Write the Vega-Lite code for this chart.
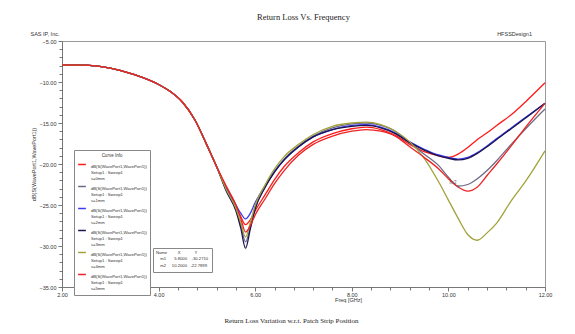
{
  "$schema": "https://vega.github.io/schema/vega-lite/v6.json",
  "background": "white",
  "padding": {"left": 30, "top": 12, "right": 5, "bottom": 2},
  "title": {"text": "Return Loss Vs. Frequency", "font": "Liberation Serif", "fontSize": 8.5, "fontWeight": "normal", "color": "#222", "anchor": "middle", "offset": 10, "dx": 12},
  "datasets": {
    "curves": [
      {"s":"s=0mm","f":2.0,"v":-7.9},{"s":"s=0mm","f":2.5,"v":-7.95},{"s":"s=0mm","f":3.0,"v":-8.3},{"s":"s=0mm","f":3.5,"v":-9.1},{"s":"s=0mm","f":4.0,"v":-10.3},{"s":"s=0mm","f":4.25,"v":-11.2},{"s":"s=0mm","f":4.5,"v":-12.5},{"s":"s=0mm","f":4.75,"v":-14.6},{"s":"s=0mm","f":5.0,"v":-17.7},{"s":"s=0mm","f":5.2,"v":-20.3},
      {"s":"s=0mm","f":5.4,"v":-22.8},{"s":"s=0mm","f":5.6,"v":-25.0},{"s":"s=0mm","f":5.7,"v":-26.4},{"s":"s=0mm","f":5.8,"v":-27.4},{"s":"s=0mm","f":5.9,"v":-26.8},{"s":"s=0mm","f":6.0,"v":-25.7},{"s":"s=0mm","f":6.2,"v":-23.8},{"s":"s=0mm","f":6.4,"v":-21.9},{"s":"s=0mm","f":6.6,"v":-20.3},{"s":"s=0mm","f":6.9,"v":-18.6},{"s":"s=0mm","f":7.2,"v":-17.3},{"s":"s=0mm","f":7.6,"v":-16.3},{"s":"s=0mm","f":8.0,"v":-15.7},{"s":"s=0mm","f":8.3,"v":-15.5},{"s":"s=0mm","f":8.6,"v":-15.8},{"s":"s=0mm","f":8.9,"v":-16.5},{"s":"s=0mm","f":9.2,"v":-17.6},{"s":"s=0mm","f":9.5,"v":-18.5},{"s":"s=0mm","f":9.8,"v":-19.0},{"s":"s=0mm","f":10.0,"v":-19.2},{"s":"s=0mm","f":10.2,"v":-18.8},{"s":"s=0mm","f":10.4,"v":-18.0},{"s":"s=0mm","f":10.6,"v":-17.0},{"s":"s=0mm","f":10.8,"v":-16.2},{"s":"s=0mm","f":11.0,"v":-15.3},{"s":"s=0mm","f":11.3,"v":-14.0},{"s":"s=0mm","f":11.6,"v":-12.4},{"s":"s=0mm","f":12.0,"v":-10.1},

      {"s":"s=1mm","f":2.0,"v":-7.9},{"s":"s=1mm","f":2.5,"v":-7.95},{"s":"s=1mm","f":3.0,"v":-8.3},{"s":"s=1mm","f":3.5,"v":-9.1},{"s":"s=1mm","f":4.0,"v":-10.3},{"s":"s=1mm","f":4.25,"v":-11.2},{"s":"s=1mm","f":4.5,"v":-12.5},{"s":"s=1mm","f":4.75,"v":-14.6},{"s":"s=1mm","f":5.0,"v":-17.7},{"s":"s=1mm","f":5.2,"v":-20.3},
      {"s":"s=1mm","f":5.4,"v":-23.2},{"s":"s=1mm","f":5.6,"v":-25.5},{"s":"s=1mm","f":5.7,"v":-27.4},{"s":"s=1mm","f":5.8,"v":-29.5},{"s":"s=1mm","f":5.9,"v":-27.6},{"s":"s=1mm","f":6.0,"v":-25.3},{"s":"s=1mm","f":6.2,"v":-22.9},{"s":"s=1mm","f":6.4,"v":-20.9},{"s":"s=1mm","f":6.6,"v":-19.4},{"s":"s=1mm","f":6.9,"v":-17.8},{"s":"s=1mm","f":7.2,"v":-16.6},{"s":"s=1mm","f":7.6,"v":-15.6},{"s":"s=1mm","f":8.0,"v":-15.1},{"s":"s=1mm","f":8.3,"v":-15.0},{"s":"s=1mm","f":8.6,"v":-15.3},{"s":"s=1mm","f":8.9,"v":-16.0},{"s":"s=1mm","f":9.2,"v":-17.4},{"s":"s=1mm","f":9.5,"v":-18.8},{"s":"s=1mm","f":9.8,"v":-20.2},{"s":"s=1mm","f":10.0,"v":-21.6},{"s":"s=1mm","f":10.2,"v":-22.7},{"s":"s=1mm","f":10.4,"v":-22.5},{"s":"s=1mm","f":10.6,"v":-21.8},{"s":"s=1mm","f":10.8,"v":-20.8},{"s":"s=1mm","f":11.0,"v":-19.6},{"s":"s=1mm","f":11.3,"v":-17.6},{"s":"s=1mm","f":11.6,"v":-15.7},{"s":"s=1mm","f":12.0,"v":-13.3},

      {"s":"s=2mm","f":2.0,"v":-7.9},{"s":"s=2mm","f":2.5,"v":-7.95},{"s":"s=2mm","f":3.0,"v":-8.3},{"s":"s=2mm","f":3.5,"v":-9.1},{"s":"s=2mm","f":4.0,"v":-10.3},{"s":"s=2mm","f":4.25,"v":-11.2},{"s":"s=2mm","f":4.5,"v":-12.5},{"s":"s=2mm","f":4.75,"v":-14.6},{"s":"s=2mm","f":5.0,"v":-17.7},{"s":"s=2mm","f":5.2,"v":-20.3},
      {"s":"s=2mm","f":5.4,"v":-22.9},{"s":"s=2mm","f":5.6,"v":-25.0},{"s":"s=2mm","f":5.7,"v":-26.0},{"s":"s=2mm","f":5.8,"v":-26.7},{"s":"s=2mm","f":5.9,"v":-26.0},{"s":"s=2mm","f":6.0,"v":-24.7},{"s":"s=2mm","f":6.2,"v":-22.7},{"s":"s=2mm","f":6.4,"v":-20.9},{"s":"s=2mm","f":6.6,"v":-19.5},{"s":"s=2mm","f":6.9,"v":-17.9},{"s":"s=2mm","f":7.2,"v":-16.7},{"s":"s=2mm","f":7.6,"v":-15.8},{"s":"s=2mm","f":8.0,"v":-15.3},{"s":"s=2mm","f":8.3,"v":-15.2},{"s":"s=2mm","f":8.6,"v":-15.5},{"s":"s=2mm","f":8.9,"v":-16.2},{"s":"s=2mm","f":9.2,"v":-17.3},{"s":"s=2mm","f":9.5,"v":-18.2},{"s":"s=2mm","f":9.8,"v":-18.9},{"s":"s=2mm","f":10.0,"v":-19.2},{"s":"s=2mm","f":10.2,"v":-19.4},{"s":"s=2mm","f":10.4,"v":-19.2},{"s":"s=2mm","f":10.6,"v":-18.6},{"s":"s=2mm","f":10.8,"v":-17.8},{"s":"s=2mm","f":11.0,"v":-16.9},{"s":"s=2mm","f":11.3,"v":-15.6},{"s":"s=2mm","f":11.6,"v":-14.3},{"s":"s=2mm","f":12.0,"v":-12.6},

      {"s":"s=3mm","f":2.0,"v":-7.9},{"s":"s=3mm","f":2.5,"v":-7.95},{"s":"s=3mm","f":3.0,"v":-8.3},{"s":"s=3mm","f":3.5,"v":-9.1},{"s":"s=3mm","f":4.0,"v":-10.3},{"s":"s=3mm","f":4.25,"v":-11.2},{"s":"s=3mm","f":4.5,"v":-12.5},{"s":"s=3mm","f":4.75,"v":-14.6},{"s":"s=3mm","f":5.0,"v":-17.7},{"s":"s=3mm","f":5.2,"v":-20.3},
      {"s":"s=3mm","f":5.4,"v":-23.3},{"s":"s=3mm","f":5.6,"v":-25.7},{"s":"s=3mm","f":5.7,"v":-27.8},{"s":"s=3mm","f":5.8,"v":-30.27},{"s":"s=3mm","f":5.9,"v":-27.9},{"s":"s=3mm","f":6.0,"v":-25.5},{"s":"s=3mm","f":6.2,"v":-22.9},{"s":"s=3mm","f":6.4,"v":-21.0},{"s":"s=3mm","f":6.6,"v":-19.5},{"s":"s=3mm","f":6.9,"v":-17.9},{"s":"s=3mm","f":7.2,"v":-16.7},{"s":"s=3mm","f":7.6,"v":-15.8},{"s":"s=3mm","f":8.0,"v":-15.4},{"s":"s=3mm","f":8.3,"v":-15.3},{"s":"s=3mm","f":8.6,"v":-15.6},{"s":"s=3mm","f":8.9,"v":-16.3},{"s":"s=3mm","f":9.2,"v":-17.4},{"s":"s=3mm","f":9.5,"v":-18.3},{"s":"s=3mm","f":9.8,"v":-19.0},{"s":"s=3mm","f":10.0,"v":-19.3},{"s":"s=3mm","f":10.2,"v":-19.5},{"s":"s=3mm","f":10.4,"v":-19.3},{"s":"s=3mm","f":10.6,"v":-18.7},{"s":"s=3mm","f":10.8,"v":-17.9},{"s":"s=3mm","f":11.0,"v":-17.0},{"s":"s=3mm","f":11.3,"v":-15.7},{"s":"s=3mm","f":11.6,"v":-14.4},{"s":"s=3mm","f":12.0,"v":-12.6},

      {"s":"s=4mm","f":2.0,"v":-7.9},{"s":"s=4mm","f":2.5,"v":-7.95},{"s":"s=4mm","f":3.0,"v":-8.3},{"s":"s=4mm","f":3.5,"v":-9.1},{"s":"s=4mm","f":4.0,"v":-10.3},{"s":"s=4mm","f":4.25,"v":-11.2},{"s":"s=4mm","f":4.5,"v":-12.5},{"s":"s=4mm","f":4.75,"v":-14.6},{"s":"s=4mm","f":5.0,"v":-17.7},{"s":"s=4mm","f":5.2,"v":-20.3},
      {"s":"s=4mm","f":5.4,"v":-23.1},{"s":"s=4mm","f":5.6,"v":-25.4},{"s":"s=4mm","f":5.7,"v":-27.1},{"s":"s=4mm","f":5.8,"v":-28.9},{"s":"s=4mm","f":5.9,"v":-27.1},{"s":"s=4mm","f":6.0,"v":-25.0},{"s":"s=4mm","f":6.2,"v":-22.6},{"s":"s=4mm","f":6.4,"v":-20.6},{"s":"s=4mm","f":6.6,"v":-19.1},{"s":"s=4mm","f":6.9,"v":-17.6},{"s":"s=4mm","f":7.2,"v":-16.4},{"s":"s=4mm","f":7.6,"v":-15.4},{"s":"s=4mm","f":8.0,"v":-15.0},{"s":"s=4mm","f":8.3,"v":-14.9},{"s":"s=4mm","f":8.6,"v":-15.2},{"s":"s=4mm","f":8.9,"v":-16.0},{"s":"s=4mm","f":9.2,"v":-17.3},{"s":"s=4mm","f":9.5,"v":-19.3},{"s":"s=4mm","f":9.8,"v":-22.2},{"s":"s=4mm","f":10.0,"v":-24.4},{"s":"s=4mm","f":10.2,"v":-26.6},{"s":"s=4mm","f":10.4,"v":-28.6},{"s":"s=4mm","f":10.6,"v":-29.3},{"s":"s=4mm","f":10.8,"v":-28.4},{"s":"s=4mm","f":11.0,"v":-27.2},{"s":"s=4mm","f":11.3,"v":-24.5},{"s":"s=4mm","f":11.6,"v":-22.1},{"s":"s=4mm","f":12.0,"v":-18.4},

      {"s":"s=5mm","f":2.0,"v":-7.9},{"s":"s=5mm","f":2.5,"v":-7.95},{"s":"s=5mm","f":3.0,"v":-8.3},{"s":"s=5mm","f":3.5,"v":-9.1},{"s":"s=5mm","f":4.0,"v":-10.3},{"s":"s=5mm","f":4.25,"v":-11.2},{"s":"s=5mm","f":4.5,"v":-12.5},{"s":"s=5mm","f":4.75,"v":-14.6},{"s":"s=5mm","f":5.0,"v":-17.7},{"s":"s=5mm","f":5.2,"v":-20.3},
      {"s":"s=5mm","f":5.4,"v":-22.7},{"s":"s=5mm","f":5.6,"v":-25.0},{"s":"s=5mm","f":5.7,"v":-26.6},{"s":"s=5mm","f":5.8,"v":-28.3},{"s":"s=5mm","f":5.9,"v":-27.5},{"s":"s=5mm","f":6.0,"v":-26.2},{"s":"s=5mm","f":6.2,"v":-24.3},{"s":"s=5mm","f":6.4,"v":-22.4},{"s":"s=5mm","f":6.6,"v":-20.8},{"s":"s=5mm","f":6.9,"v":-18.9},{"s":"s=5mm","f":7.2,"v":-17.6},{"s":"s=5mm","f":7.6,"v":-16.6},{"s":"s=5mm","f":8.0,"v":-16.0},{"s":"s=5mm","f":8.3,"v":-15.8},{"s":"s=5mm","f":8.6,"v":-16.0},{"s":"s=5mm","f":8.9,"v":-16.6},{"s":"s=5mm","f":9.2,"v":-17.9},{"s":"s=5mm","f":9.5,"v":-19.2},{"s":"s=5mm","f":9.8,"v":-20.6},{"s":"s=5mm","f":10.0,"v":-21.8},{"s":"s=5mm","f":10.2,"v":-22.8},{"s":"s=5mm","f":10.4,"v":-23.3},{"s":"s=5mm","f":10.6,"v":-22.8},{"s":"s=5mm","f":10.8,"v":-21.4},{"s":"s=5mm","f":11.0,"v":-20.0},{"s":"s=5mm","f":11.3,"v":-17.8},{"s":"s=5mm","f":11.6,"v":-15.5},{"s":"s=5mm","f":12.0,"v":-12.6}
    ],
    "markers": [
      {"name":"m1","X":5.8,"Y":-30.271},
      {"name":"m2","X":10.2,"Y":-22.7899}
    ]
  },
  "vconcat": [
    {
      "title": {"text": "SAS IP, Inc.", "anchor": "start", "font": "Liberation Sans", "fontSize": 5.5, "fontWeight": "normal", "color": "#333", "offset": 1, "dy": 7},
      "vconcat": [
        {
          "title": {"text": "Return Loss Variation w.r.t. Patch Strip Position", "orient": "bottom", "anchor": "middle", "font": "Liberation Serif", "fontSize": 7, "fontWeight": "normal", "color": "#222", "offset": 14},
          "vconcat": [
            {
              "title": {"text": "HFSSDesign1", "anchor": "end", "frame": "group", "font": "Liberation Sans", "fontSize": 5.5, "fontWeight": "normal", "color": "#333", "offset": 2, "dx": -13},
              "width": 483,
              "height": 246,
              "resolve": {"axis": {"x": "independent", "y": "independent"}},
              "layer": [
                {
                  "data": {"name": "curves"},
                  "mark": {"type": "line", "strokeWidth": 1.3, "interpolate": "monotone"},
                  "encoding": {
                    "x": {"field": "f", "type": "quantitative", "title": "Freq [GHz]",
                      "scale": {"domain": [2, 12], "nice": false, "zero": false},
                      "axis": {"orient": "bottom", "values": [2, 4, 6, 8, 10, 12], "format": ".2f",
                        "labelOverlap": false, "labelBound": false, "labelFlush": false,
                        "tickSize": 4, "tickWidth": 0.8,
                        "labelPadding": 1, "titleX": 286, "titleY": 10, "titleAnchor": "middle"}},
                    "y": {"field": "v", "type": "quantitative", "title": "dB(S(WavePort1,WavePort1))",
                      "scale": {"domain": [-35, -5], "nice": false, "zero": false},
                      "axis": {"orient": "left", "values": [-35, -30, -25, -20, -15, -10, -5], "format": ".2f",
                        "labelOverlap": false, "labelBound": false, "labelFlush": false,
                        "tickSize": 4, "tickWidth": 0.8,
                        "labelPadding": 2, "titlePadding": 3}},
                    "color": {"field": "s", "type": "nominal",
                      "scale": {"domain": ["s=0mm", "s=1mm", "s=2mm", "s=3mm", "s=4mm", "s=5mm"], "range": ["#ff1a1a", "#6f6a86", "#3a3af0", "#1c1450", "#a3a23a", "#ee2222"]},
                      "legend": {"orient": "none", "legendX": 12, "legendY": 109, "title": "Curve Info", "titleFontSize": 4.5, "titleFontWeight": "normal", "titleAnchor": "middle", "titleColor": "#333", "titlePadding": 2,
                        "labelFontSize": 4.2, "labelColor": "#333", "labelLimit": 300, "labelBaseline": "top",
                        "labelExpr": "['dB(S(WavePort1,WavePort1))', 'Setup1 : Sweep1', datum.label]",
                        "symbolType": "stroke", "symbolStrokeWidth": 1.5, "symbolSize": 60, "symbolOffset": 0,
                        "strokeColor": "#888", "fillColor": "white", "padding": 3, "rowPadding": -4}}
                  }
                },
                {
                  "data": {"name": "markers"},
                  "mark": {"type": "point", "filled": true, "size": 10, "color": "#666"},
                  "encoding": {
                    "x": {"field": "X", "type": "quantitative",
                      "axis": {"orient": "bottom", "values": [2.4, 2.8, 3.2, 3.6, 4.4, 4.8, 5.2, 5.6, 6.4, 6.8, 7.2, 7.6, 8.4, 8.8, 9.2, 9.6, 10.4, 10.8, 11.2, 11.6], "labels": false, "domain": false, "title": null, "tickSize": 3, "tickWidth": 0.8}},
                    "y": {"field": "Y", "type": "quantitative",
                      "axis": {"orient": "left", "values": [-34,-33,-32,-31,-29,-28,-27,-26,-24,-23,-22,-21,-19,-18,-17,-16,-14,-13,-12,-11,-9,-8,-7,-6], "labels": false, "domain": false, "title": null, "tickSize": 3, "tickWidth": 0.8}},
                    "shape": {"field": "name", "type": "nominal",
                      "scale": {"range": ["triangle-down", "triangle-down"]},
                      "legend": {"orient": "none", "legendX": 91, "legendY": 207, "title": "Name\u00a0\u00a0\u00a0\u00a0\u00a0\u00a0\u00a0\u00a0\u00a0X\u00a0\u00a0\u00a0\u00a0\u00a0\u00a0\u00a0\u00a0\u00a0\u00a0\u00a0\u00a0Y", "titleFontSize": 4.2, "titleFontWeight": "normal", "titleColor": "#333", "titlePadding": 2,
                        "labelFontSize": 4.2, "labelColor": "#333",
                        "labelExpr": "datum.label == 'm1' ? 'm1\u00a0\u00a0\u00a0\u00a0\u00a0\u00a0\u00a05.8000\u00a0\u00a0\u00a0\u00a0-30.2710' : 'm2\u00a0\u00a0\u00a0\u00a0\u00a010.2000\u00a0\u00a0\u00a0-22.7899'",
                        "symbolOpacity": 0, "symbolSize": 1, "labelOffset": 0,
                        "strokeColor": "#888", "fillColor": "white", "padding": 3, "rowPadding": 2}}
                  }
                },
                {
                  "data": {"name": "markers"},
                  "transform": [{"filter": "datum.name == 'm2'"}],
                  "mark": {"type": "text", "fontSize": 5, "color": "#555", "dx": -5, "dy": -5},
                  "encoding": {
                    "x": {"field": "X", "type": "quantitative", "axis": null},
                    "y": {"field": "Y", "type": "quantitative", "axis": null},
                    "text": {"field": "name"}
                  }
                }
              ]
            }
          ]
        }
      ]
    }
  ],
  "config": {
    "view": {"stroke": "#9a9a9a", "strokeWidth": 1},
    "font": "Liberation Sans",
    "axis": {"labelFont": "Liberation Sans", "labelFontSize": 5.5, "labelColor": "#333", "titleFont": "Liberation Sans", "titleFontSize": 5.5, "titleFontWeight": "normal", "titleColor": "#333", "domainColor": "#777", "tickColor": "#555", "grid": false},
    "concat": {"spacing": 0}
  }
}
